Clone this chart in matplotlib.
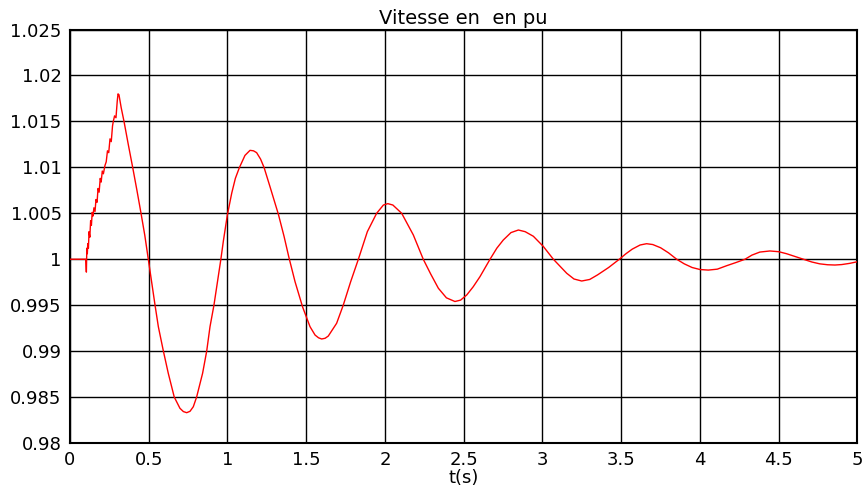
import matplotlib

matplotlib.use("Agg", force=True)
import matplotlib.pyplot as plt

# rotor speed (pu) after the disturbance
t_s = [
    0.000, 0.050, 0.095, 0.100, 0.104, 0.107, 0.110, 0.113, 0.117, 0.121,
    0.126, 0.131, 0.136, 0.141, 0.146, 0.152, 0.159, 0.165, 0.172, 0.178,
    0.185, 0.192, 0.198, 0.205, 0.212, 0.222, 0.230, 0.238, 0.246, 0.254,
    0.262, 0.270, 0.275, 0.283, 0.292, 0.300, 0.305, 0.311, 0.318, 0.325,
    0.343, 0.370, 0.398, 0.425, 0.451, 0.475, 0.497, 0.519, 0.540, 0.561,
    0.593, 0.624, 0.662, 0.698, 0.720, 0.741, 0.762, 0.783, 0.804, 0.842,
    0.868, 0.889, 0.914, 0.935, 0.958, 0.974, 0.999, 1.027, 1.050, 1.075,
    1.111, 1.143, 1.165, 1.185, 1.210, 1.232, 1.270, 1.323, 1.359, 1.390,
    1.429, 1.477, 1.524, 1.556, 1.578, 1.598, 1.620, 1.640, 1.693, 1.735,
    1.782, 1.831, 1.888, 1.947, 1.990, 2.018, 2.050, 2.106, 2.180, 2.243,
    2.290, 2.339, 2.390, 2.444, 2.480, 2.519, 2.560, 2.603, 2.667, 2.710,
    2.751, 2.800, 2.847, 2.890, 2.942, 3.005, 3.069, 3.154, 3.200, 3.249,
    3.300, 3.350, 3.420, 3.488, 3.530, 3.570, 3.620, 3.661, 3.700, 3.750,
    3.800, 3.852, 3.900, 3.950, 4.000, 4.053, 4.110, 4.170, 4.230, 4.286,
    4.330, 4.380, 4.444, 4.500, 4.550, 4.600, 4.656, 4.710, 4.760, 4.810,
    4.857, 4.900, 4.950, 5.000,
]
speed_pu = [
    1.00000, 1.00000, 1.00000, 1.00000, 0.99860, 1.00120, 1.00060, 1.00170, 1.00120, 1.00300,
    1.00240, 1.00420, 1.00370, 1.00510, 1.00470, 1.00560, 1.00520, 1.00650, 1.00620, 1.00770,
    1.00730, 1.00880, 1.00840, 1.00960, 1.00930, 1.01020, 1.01060, 1.01180, 1.01160, 1.01310,
    1.01280, 1.01450, 1.01500, 1.01560, 1.01540, 1.01720, 1.01800, 1.01790, 1.01720, 1.01650,
    1.01500, 1.01250, 1.01000, 1.00750, 1.00500, 1.00260, 1.00000, 0.99738, 0.99500, 0.99266,
    0.99000, 0.98759, 0.98500, 0.98378, 0.98342, 0.98330, 0.98345, 0.98395, 0.98500, 0.98759,
    0.99000, 0.99266, 0.99500, 0.99738, 1.00000, 1.00200, 1.00480, 1.00720, 1.00880, 1.00995,
    1.01130, 1.01185, 1.01180, 1.01160, 1.01090, 1.01000, 1.00789, 1.00490, 1.00250, 1.00020,
    0.99755, 0.99480, 0.99266, 0.99175, 0.99145, 0.99132, 0.99140, 0.99164, 0.99303, 0.99500,
    0.99755, 1.00000, 1.00300, 1.00500, 1.00590, 1.00605, 1.00590, 1.00500, 1.00264, 1.00000,
    0.99840, 0.99684, 0.99580, 0.99540, 0.99555, 0.99611, 0.99700, 0.99810, 1.00000, 1.00120,
    1.00209, 1.00290, 1.00318, 1.00300, 1.00250, 1.00140, 1.00000, 0.99847, 0.99785, 0.99763,
    0.99780, 0.99830, 0.99910, 1.00000, 1.00060, 1.00110, 1.00155, 1.00169, 1.00160, 1.00125,
    1.00070, 1.00000, 0.99950, 0.99910, 0.99888, 0.99882, 0.99892, 0.99930, 0.99965, 1.00000,
    1.00045, 1.00078, 1.00090, 1.00082, 1.00060, 1.00032, 1.00000, 0.99970, 0.99950, 0.99940,
    0.99937, 0.99942, 0.99955, 0.99973,
]

x_ticks = [0, 0.5, 1, 1.5, 2, 2.5, 3, 3.5, 4, 4.5, 5]
x_labels = ["0", "0.5", "1", "1.5", "2", "2.5", "3", "3.5", "4", "4.5", "5"]
y_ticks = [0.98, 0.985, 0.99, 0.995, 1.0, 1.005, 1.01, 1.015, 1.02, 1.025]
y_labels = ["0.98", "0.985", "0.99", "0.995", "1", "1.005", "1.01", "1.015", "1.02", "1.025"]

plt.rcParams["font.family"] = ["DejaVu Sans"]

fig = plt.figure(figsize=(8.63, 4.88), dpi=100)
ax = fig.add_axes([0.0811, 0.0922, 0.9125, 0.8473])

ax.plot(t_s, speed_pu, color="red", lw=1.0, zorder=3)

ax.set_xlim(0, 5)
ax.set_ylim(0.98, 1.025)
ax.set_xticks(x_ticks)
ax.set_xticklabels(x_labels)
ax.set_yticks(y_ticks)
ax.set_yticklabels(y_labels)
ax.tick_params(direction="in", length=0, labelsize=13, colors="black", pad=6)
ax.grid(True, color="black", lw=1.0, ls="-", zorder=1)
ax.set_axisbelow(True)
for sp in ax.spines.values():
    sp.set_linewidth(1.5)
    sp.set_color("black")

ax.set_title("Vitesse en  en pu", fontsize=14, pad=4)
ax.set_xlabel("t(s)", fontsize=13, labelpad=0)

fig.savefig("out.png", dpi=100, facecolor="white")
